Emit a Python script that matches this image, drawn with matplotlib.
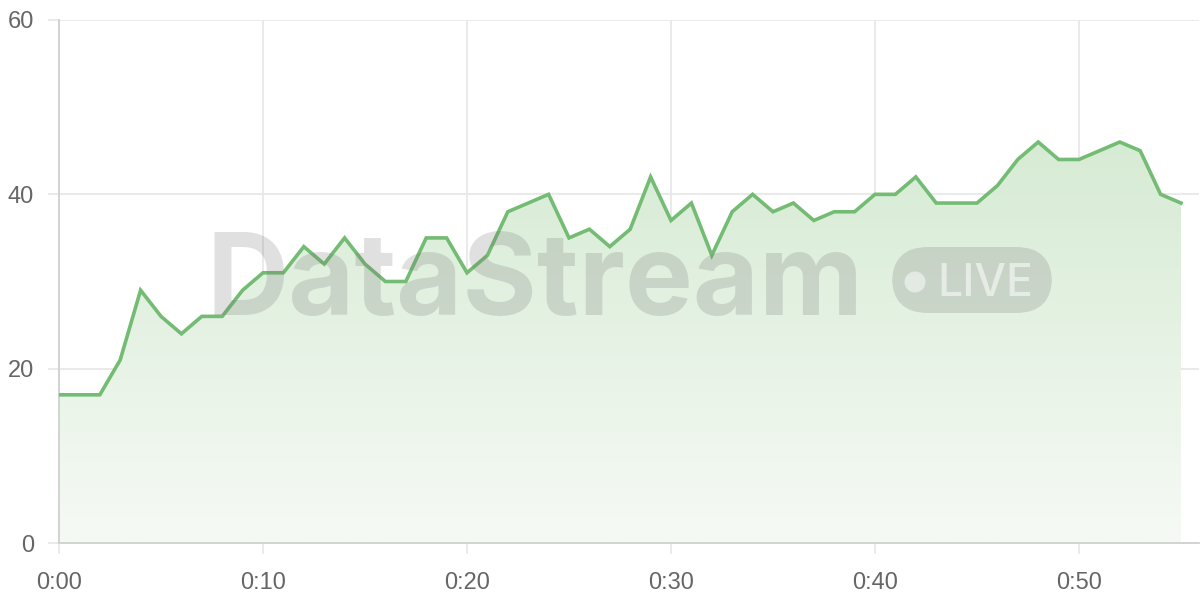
import matplotlib
matplotlib.use("Agg")
import matplotlib.pyplot as plt
import numpy as np
from matplotlib.patches import FancyBboxPatch, Ellipse, Polygon
from matplotlib.colors import LinearSegmentedColormap

minutes = list(range(56))
values = [17, 17, 17, 21, 29, 26, 24, 26, 26, 29,
          31, 31, 34, 32, 35, 32, 30, 30, 35, 35,
          31, 33, 38, 39, 40, 35, 36, 34, 36, 42,
          37, 39, 33, 38, 40, 38, 39, 37, 38, 38,
          40, 40, 42, 39, 39, 39, 41, 44, 46, 44,
          44, 45, 46, 45, 40, 39]
x_ticks = [0, 10, 20, 30, 40, 50]
x_labels = ["0:00", "0:10", "0:20", "0:30", "0:40", "0:50"]
y_ticks = [0, 20, 40, 60]

plt.rcParams['font.family'] = ['Liberation Sans', 'DejaVu Sans']

fig = plt.figure(figsize=(12, 6), dpi=100)
ax = fig.add_axes([59/1200, 57/600, 1140/1200, 523/600])
ax.set_xlim(0, 1140/20.4)
ax.set_ylim(0, 60)

line_color = "#74bb74"

# gradient fill
grad = np.linspace(0, 1, 256).reshape(-1, 1)
cmap = LinearSegmentedColormap.from_list("g", ["#f6faf5", "#d6ebd4"])
im = ax.imshow(grad, extent=[0, 55, 0, 46], origin="lower", aspect="auto",
               cmap=cmap, zorder=1)
poly = Polygon(list(zip(minutes, values)) + [(55, 0), (0, 0)], closed=True,
               transform=ax.transData, facecolor="none", edgecolor="none")
ax.add_patch(poly)
im.set_clip_path(poly)

ax.plot(minutes, values, color=line_color, lw=2.6, zorder=4,
        solid_joinstyle="miter")

# watermark
wm_color = (0.45, 0.45, 0.45)
fig.text(206/1200, 1 - 315/600, "DataStream", fontsize=82, fontweight="bold",
         color=wm_color, alpha=0.22, ha="left", va="baseline",
         family=["Inter", "DejaVu Sans"], zorder=3)
badge = FancyBboxPatch((892/1200, 1 - 313/600), 160/1200, 66/600,
                       boxstyle="round,pad=0,rounding_size=0.03",
                       transform=fig.transFigure, facecolor=wm_color,
                       alpha=0.22, edgecolor="none", zorder=3,
                       mutation_aspect=2)
fig.patches.append(badge)
fig.patches.append(Ellipse((915/1200, 1 - 282/600), 21/1200, 21/600,
                           transform=fig.transFigure, facecolor="white",
                           alpha=0.5, edgecolor="none", zorder=3))
fig.text(937/1200, 1 - 296/600, "LIVE", fontsize=32, fontweight="medium",
         color="white", alpha=0.55, ha="left", va="baseline",
         family=["Inter", "DejaVu Sans"], zorder=3)

ax.set_xticks(x_ticks)
ax.set_xticklabels(x_labels)
ax.set_yticks(y_ticks)
ax.grid(True, color="#e6e6e6", lw=1.2, zorder=0)
ax.set_axisbelow(True)
for s in ["top", "right"]:
    ax.spines[s].set_visible(False)
for s in ["left", "bottom"]:
    ax.spines[s].set_color("#d0d0d0")
    ax.spines[s].set_linewidth(1.3)
ax.tick_params(axis="both", length=8, width=1.2, color="#e6e6e6",
               labelsize=17, labelcolor="#666666")
ax.tick_params(axis="x", pad=13)
ax.tick_params(axis="y", pad=10)

fig.savefig("out.png", dpi=100)
